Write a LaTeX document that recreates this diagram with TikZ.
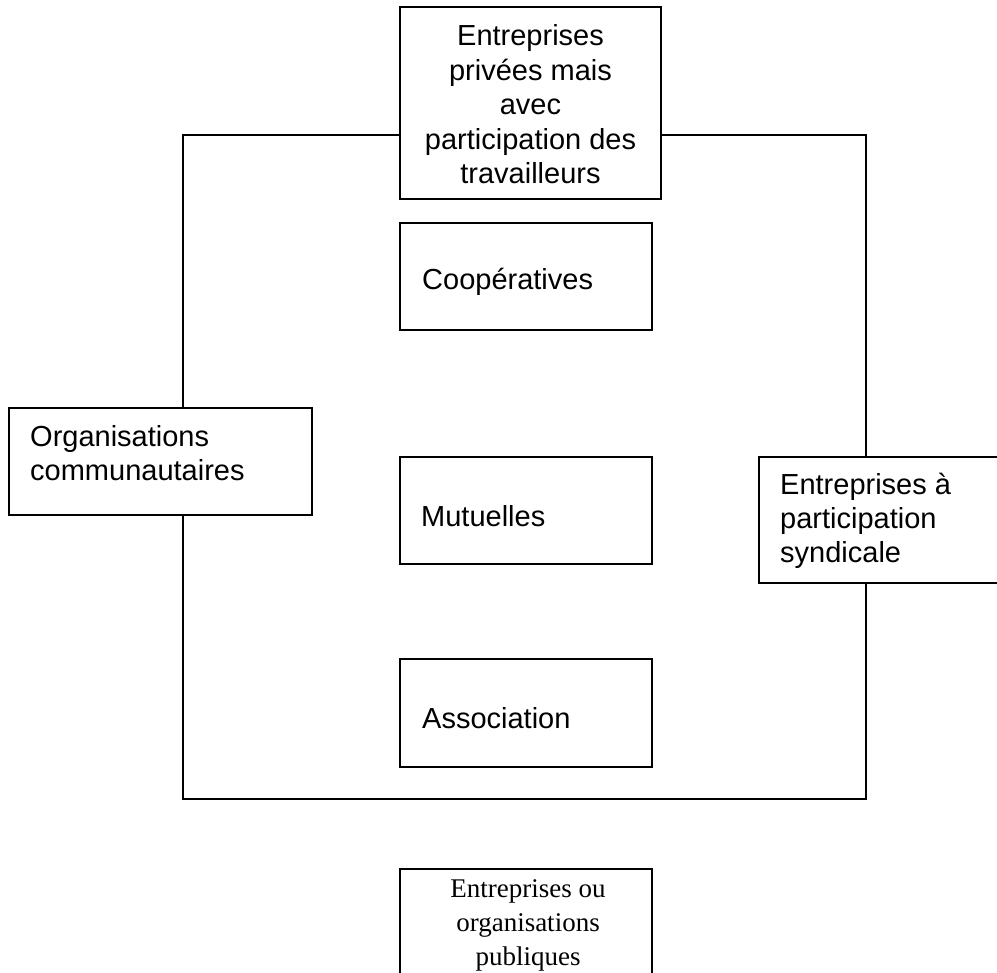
\documentclass[tikz,border=0pt]{standalone}
\usepackage{fontspec}
\setmainfont{Liberation Sans}
\newfontfamily\seriffont{Liberation Serif}
\begin{document}
\begin{tikzpicture}[x=1pt,y=-1pt,
  box/.style={draw, line width=1.3pt, inner sep=0pt},
  conn/.style={draw, line width=1.3pt},
  lbl/.style={font=\fontsize{29}{34.5}\selectfont, inner sep=0pt},
  slbl/.style={font=\seriffont\fontsize{27}{34}\selectfont, inner sep=0pt}]
\useasboundingbox (0,0) rectangle (997,973);
\clip (0,0) rectangle (997,973);
% boxes
\node[box, minimum width=261, minimum height=192] (priv) at (530.5,103) {};
\node[box, minimum width=252, minimum height=107] (coop) at (526,276.5) {};
\node[box, minimum width=303, minimum height=107] (org) at (160.5,461.5) {};
\node[box, minimum width=252, minimum height=107] (mut) at (526,510.5) {};
\node[box, minimum width=250, minimum height=126] (synd) at (884,520) {};
\node[box, minimum width=252, minimum height=108] (assoc) at (526,713) {};
\node[box, minimum width=252, minimum height=140] (pub) at (526,939) {};
% labels (base anchor = baseline of the last line)
\node[lbl, align=center, anchor=base] (privt) at (530.5,184) {Entreprises\\privées mais\\avec\\participation des\\travailleurs};
\node[lbl, anchor=base west] (coopt) at (422,290) {Coopératives};
\node[lbl, align=left, anchor=base west] (orgt) at (30,481) {Organisations\\communautaires};
\node[lbl, anchor=base west] (mutt) at (421,527) {Mutuelles};
\node[lbl, align=left, anchor=base west] (syndt) at (780,563) {Entreprises à\\participation\\syndicale};
\node[lbl, anchor=base west] (assoct) at (422,728) {Association};
\node[slbl, align=center, anchor=base] (pubt) at (528,965) {Entreprises ou\\organisations\\publiques};
% connectors
\coordinate (tl) at (183,135);
\coordinate (tr) at (866,135);
\coordinate (bl) at (183,799);
\coordinate (br) at (866,799);
\draw[conn] (priv.west |- tl) -- (tl) -- (org.north -| tl);
\draw[conn] (org.south -| bl) -- (bl) -- (br) -- (synd.south -| br);
\draw[conn] (synd.north -| tr) -- (tr) -- (priv.east |- tr);
\end{tikzpicture}
\end{document}
